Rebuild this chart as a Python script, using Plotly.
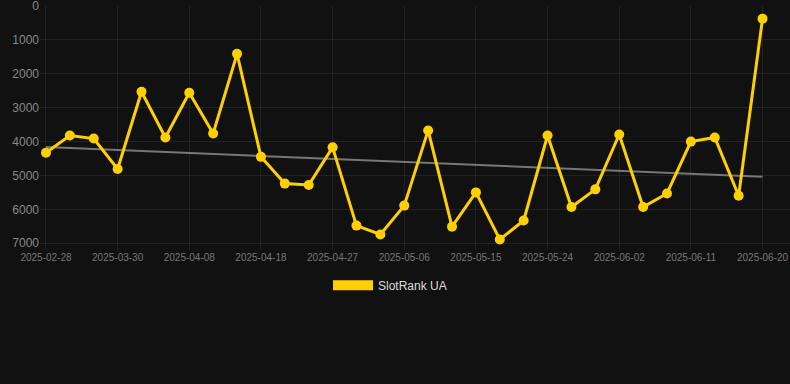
import plotly.graph_objects as go

dates = ["2025-02-28", "2025-03-10", "2025-03-20", "2025-03-30", "2025-04-02", "2025-04-05",
         "2025-04-08", "2025-04-11", "2025-04-15", "2025-04-18", "2025-04-21", "2025-04-24",
         "2025-04-27", "2025-04-30", "2025-05-03", "2025-05-06", "2025-05-09", "2025-05-12",
         "2025-05-15", "2025-05-18", "2025-05-21", "2025-05-24", "2025-05-27", "2025-05-30",
         "2025-06-02", "2025-06-05", "2025-06-08", "2025-06-11", "2025-06-14", "2025-06-17",
         "2025-06-20"]
rank = [4330, 3820, 3910, 4810, 2530, 3880, 2560, 3760, 1410, 4450, 5240,
        5280, 4170, 6480, 6740, 5890, 3670, 6510, 5500, 6890, 6330, 3820,
        5930, 5410, 3790, 5930, 5530, 4000, 3880, 5600, 370]
trend_x = [dates[0], dates[-1]]
trend_y = [4160, 5040]
tick_labels = dates[::3]
y_ticks = [0, 1000, 2000, 3000, 4000, 5000, 6000, 7000]

fig = go.Figure()
fig.add_trace(go.Scatter(x=trend_x, y=trend_y, mode="lines",
                         line=dict(color="#777777", width=2), showlegend=False,
                         hoverinfo="skip"))
fig.add_trace(go.Scatter(x=dates, y=rank, mode="lines+markers", name="SlotRank UA",
                         line=dict(color="#FFD000", width=3),
                         marker=dict(size=10, color="#FFD000"), showlegend=False))
fig.add_trace(go.Scatter(x=[None], y=[None], mode="lines", name="SlotRank UA",
                         line=dict(color="#FFD000", width=11), showlegend=True))

fig.update_layout(
    width=790, height=384,
    paper_bgcolor="#111111", plot_bgcolor="#111111",
    margin=dict(l=40, r=0, t=6, b=134, autoexpand=False),
    font=dict(family="Liberation Sans, Arial, sans-serif", color="#888888"),
    showlegend=True,
    legend=dict(orientation="h", x=0.4667, xanchor="center",
                y=-0.085, yanchor="top",
                font=dict(size=12, color="#dddddd"), itemwidth=40,
                bgcolor="rgba(0,0,0,0)"),
    xaxis=dict(type="category", categoryorder="array", categoryarray=dates,
               range=[-0.25, 31.15], tickmode="array", tickvals=tick_labels,
               ticktext=tick_labels, tickfont=dict(size=10, color="#777777"),
               tickangle=0, automargin=False, ticklabeloverflow="allow",
               showgrid=True, gridcolor="#222222", gridwidth=1, zeroline=False,
               showline=False, ticks=""),
    yaxis=dict(range=[7200, -3], tickmode="array", tickvals=y_ticks, automargin=False,
               ticklabeloverflow="allow",
               tickfont=dict(size=12, color="#888888"), showgrid=True, gridcolor="#222222",
               gridwidth=1, zeroline=False, showline=False, ticks=""),
)

fig.write_html("out.html", config={"displayModeBar": False},
               post_script="document.body.style.margin='0';document.body.style.background='#111111';")
